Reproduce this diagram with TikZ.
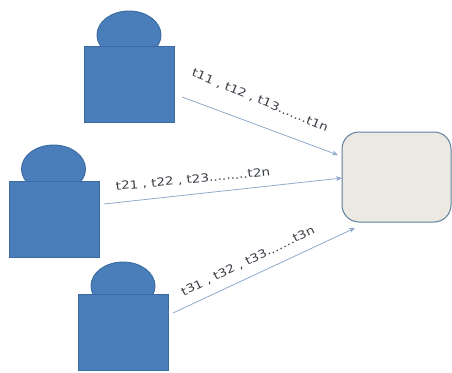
\documentclass[tikz,border=0pt]{standalone}
\usepackage{fontspec}
\setmainfont{Liberation Sans}
\newfontfamily\flowfont[FakeStretch=1.2]{DejaVu Sans}
\usetikzlibrary{arrows.meta,shapes.geometric}
\definecolor{bluefill}{HTML}{4A7EBB}
\definecolor{blueedge}{HTML}{3A6A9F}
\definecolor{boxfill}{HTML}{EBE9E1}
\definecolor{boxedge}{HTML}{5F7F9F}
\definecolor{arrowcol}{HTML}{8FAACB}
\definecolor{labelcol}{HTML}{3A3F46}
\tikzset{
  x=1pt,y=-1pt,
  personbody/.style={draw=blueedge,fill=bluefill,line width=0.9pt,minimum width=90pt,minimum height=76pt,inner sep=0pt,outer sep=0pt},
  personhead/.style={draw=blueedge,fill=bluefill,line width=0.9pt,ellipse,minimum width=64pt,minimum height=48pt,inner sep=0pt},
  serverbox/.style={draw=boxedge,fill=boxfill,line width=1pt,rounded corners=17pt,minimum width=109pt,minimum height=90pt,inner sep=0pt},
  flow/.style={draw=arrowcol,line width=0.8pt,-{Stealth[length=6pt,width=5pt]}},
  flowlabel/.style={font=\flowfont\fontsize{11.3pt}{13pt}\selectfont,text=labelcol,inner sep=0pt}
}
\begin{document}
\begin{tikzpicture}
\useasboundingbox (0,0) rectangle (452,372);
% heads are drawn first so that the bodies overlap them
\node[personhead] (head1) at (129,35) {};
\node[personhead] (head2) at (53.5,169) {};
\node[personhead] (head3) at (123,286) {};
\node[personbody] (body1) at (129,84) {};
\node[personbody] (body2) at (54,219) {};
\node[personbody] (body3) at (123.5,332) {};
\node[serverbox] (server) at (396.5,177) {};
\coordinate (s1) at (182,97);
\coordinate (e1) at (338,155);
\coordinate (s2) at (104,204);
\coordinate (e2) at (342,178);
\coordinate (s3) at (173,313);
\coordinate (e3) at (355,228);
\draw[flow] (s1) -- (e1);
\draw[flow] (s2) -- (e2);
\draw[flow] (s3) -- (e3);
\node[flowlabel,rotate=-22.5] (lab1) at (260,100.5) {t11 , t12 , t13.......t1n};
\node[flowlabel,rotate=5.5] (lab2) at (193,179.5) {t21 , t22 , t23.........t2n};
\node[flowlabel,rotate=25.5] (lab3) at (248,261.5) {t31 , t32 , t33.......t3n};
\end{tikzpicture}
\end{document}
